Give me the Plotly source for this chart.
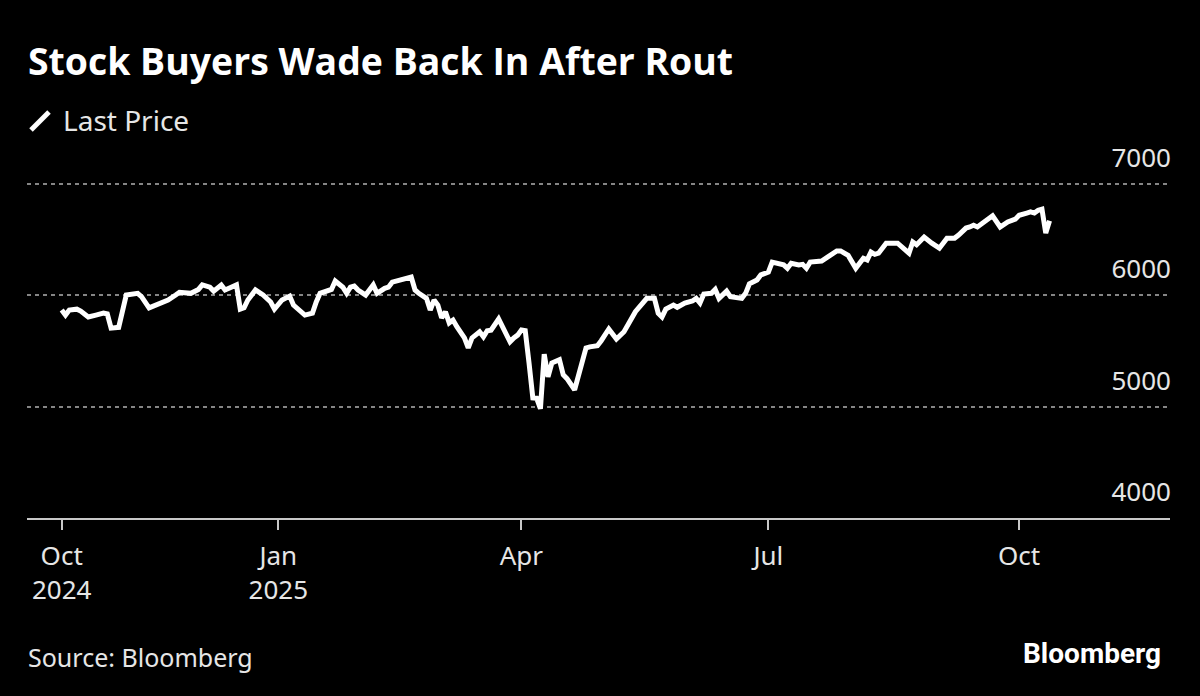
import plotly.graph_objects as go

# ---------------- data ----------------
dates = [
    "2024-10-14", "2024-10-15", "2024-10-16", "2024-10-18", "2024-10-21", "2024-10-23",
    "2024-10-25", "2024-10-29", "2024-10-30", "2024-10-31", "2024-11-04", "2024-11-05",
    "2024-11-06", "2024-11-11", "2024-11-12", "2024-11-14", "2024-11-18", "2024-11-21",
    "2024-11-25", "2024-11-26", "2024-11-29", "2024-12-03", "2024-12-04", "2024-12-06",
    "2024-12-09", "2024-12-11", "2024-12-12", "2024-12-16", "2024-12-17", "2024-12-18",
    "2024-12-19", "2024-12-20", "2024-12-24", "2024-12-26", "2024-12-30", "2024-12-31",
    "2025-01-02", "2025-01-06", "2025-01-07", "2025-01-10", "2025-01-14", "2025-01-15",
    "2025-01-16", "2025-01-21", "2025-01-22", "2025-01-24", "2025-01-27", "2025-01-28",
    "2025-01-29", "2025-01-30", "2025-02-03", "2025-02-05", "2025-02-06", "2025-02-10",
    "2025-02-11", "2025-02-12", "2025-02-14", "2025-02-19", "2025-02-20", "2025-02-21",
    "2025-02-25", "2025-02-26", "2025-02-27", "2025-02-28", "2025-03-03", "2025-03-04",
    "2025-03-05", "2025-03-06", "2025-03-07", "2025-03-11", "2025-03-12", "2025-03-13",
    "2025-03-17", "2025-03-18", "2025-03-19", "2025-03-20", "2025-03-24", "2025-03-26",
    "2025-03-27", "2025-03-28", "2025-03-31", "2025-04-01", "2025-04-02", "2025-04-03",
    "2025-04-04", "2025-04-07", "2025-04-08", "2025-04-09", "2025-04-10", "2025-04-11",
    "2025-04-15", "2025-04-16", "2025-04-17", "2025-04-21", "2025-04-22", "2025-04-23",
    "2025-04-24", "2025-04-25", "2025-04-29", "2025-04-30", "2025-05-02", "2025-05-06",
    "2025-05-08", "2025-05-13", "2025-05-16", "2025-05-20", "2025-05-21", "2025-05-22",
    "2025-05-23", "2025-05-27", "2025-05-28", "2025-05-30", "2025-06-03", "2025-06-04",
    "2025-06-05", "2025-06-06", "2025-06-10", "2025-06-11", "2025-06-12", "2025-06-16",
    "2025-06-17", "2025-06-20", "2025-06-23", "2025-06-24", "2025-06-26", "2025-06-27",
    "2025-07-01", "2025-07-02", "2025-07-07", "2025-07-08", "2025-07-09", "2025-07-11",
    "2025-07-14", "2025-07-15", "2025-07-16", "2025-07-21", "2025-07-23", "2025-07-25",
    "2025-07-28", "2025-07-30", "2025-08-01", "2025-08-04", "2025-08-05", "2025-08-06",
    "2025-08-07", "2025-08-08", "2025-08-11", "2025-08-13", "2025-08-15", "2025-08-18",
    "2025-08-21", "2025-08-22", "2025-08-25", "2025-08-27", "2025-08-29", "2025-09-02",
    "2025-09-04", "2025-09-08", "2025-09-09", "2025-09-11", "2025-09-12", "2025-09-15",
    "2025-09-16", "2025-09-18", "2025-09-22", "2025-09-24", "2025-09-26", "2025-09-30",
    "2025-10-01", "2025-10-03", "2025-10-06", "2025-10-07", "2025-10-08", "2025-10-09",
    "2025-10-10", "2025-10-13",
]
last_price = [
    5865, 5820, 5865, 5873, 5856, 5803,
    5820, 5838, 5830, 5703, 5710, 5860,
    6000, 6015, 5985, 5885, 5912, 5955,
    6000, 6025, 6015, 6050, 6090, 6070,
    6035, 6090, 6045, 6080, 6090, 5873,
    5885, 5955, 6045, 6000, 5937, 5873,
    5955, 5990, 5910, 5820, 5838, 5937,
    6015, 6050, 6125, 6070, 6015, 6070,
    6080, 6045, 6000, 6090, 6015, 6060,
    6070, 6115, 6135, 6160, 6045, 6015,
    5970, 5865, 5955, 5910, 5795, 5850,
    5750, 5775, 5715, 5615, 5525, 5615,
    5670, 5625, 5680, 5685, 5785, 5640,
    5580, 5615, 5640, 5686, 5680, 5390,
    5077, 5075, 4980, 5470, 5266, 5390,
    5420, 5284, 5250, 5150, 5270, 5390,
    5525, 5535, 5545, 5590, 5695, 5605,
    5670, 5850, 5970, 5970, 5837, 5803,
    5873, 5910, 5890, 5928, 5946, 5970,
    5928, 6008, 6015, 6050, 5970, 6035,
    5985, 5970, 6015, 6100, 6135, 6180,
    6205, 6295, 6270, 6240, 6285, 6270,
    6275, 6240, 6295, 6305, 6355, 6395,
    6395, 6355, 6240, 6295, 6330, 6315,
    6385, 6365, 6375, 6465, 6465, 6465,
    6375, 6475, 6450, 6520, 6465, 6420,
    6510, 6510, 6535, 6600, 6610, 6625,
    6610, 6665, 6710, 6610, 6655, 6680,
    6715, 6735, 6745, 6735, 6760, 6770,
    6555, 6665,
]
x_tick_dates = ["2024-10-14", "2025-01-01", "2025-04-01", "2025-07-01", "2025-10-01"]
x_tick_labels = ["Oct<br>2024", "Jan<br>2025", "Apr", "Jul", "Oct"]
y_tick_values = [4000, 5000, 6000, 7000]
y_tick_labels = ["4000", "5000", "6000", "7000"]

# ---------------- layout helpers ----------------
W, H = 1200, 696
L, R, T, B = 27, 30, 120, 178
PW, PH = W - L - R, H - T - B
Y_MIN = 4000
Y_MAX = 4000 + PH * 3000 / 334.5   # keeps 4000 at y=518 and 7000 at y=183.5


def px(x):
    return (x - L) / PW


def py(y):
    return (H - B - y) / PH


FONT = "Noto Sans"
TEXT = "#e6e6e6"

fig = go.Figure()
fig.add_trace(go.Scatter(
    x=dates, y=last_price, mode="lines", name="Last Price",
    line=dict(color="#ffffff", width=5),
    showlegend=False, hoverinfo="skip",
))

fig.update_layout(
    width=W, height=H,
    paper_bgcolor="#000000", plot_bgcolor="#000000",
    margin=dict(l=L, r=R, t=T, b=B, pad=0),
    font=dict(family=FONT, color=TEXT, size=26),
    showlegend=False,
)

fig.update_xaxes(
    type="date",
    rangebreaks=[dict(bounds=["sat", "mon"])],
    range=["2024-09-30 20:53", "2025-11-25 16:48"],
    tickmode="array", tickvals=x_tick_dates, ticktext=x_tick_labels,
    showgrid=False, zeroline=False,
    showline=True, linecolor="#c8c8c8", linewidth=2,
    ticks="outside", ticklen=10, tickwidth=2, tickcolor="#c8c8c8",
    ticklabelstandoff=4,
    tickfont=dict(family=FONT, size=26, color=TEXT),
)

fig.update_yaxes(
    side="right", range=[Y_MIN, Y_MAX],
    tickmode="array", tickvals=y_tick_values, ticktext=y_tick_labels,
    ticklabelposition="inside", ticklabelshift=-26, ticklabelstandoff=-4, ticks="",
    showgrid=True, gridcolor="#858585", griddash="4px,4px", gridwidth=1.5,
    zeroline=False, showline=False,
    tickfont=dict(family=FONT, size=26, color=TEXT),
)

# title
fig.add_annotation(
    text="<b>Stock Buyers Wade Back In After Rout</b>",
    xref="paper", yref="paper", x=px(25.5), y=py(60),
    xanchor="left", yanchor="middle", showarrow=False,
    font=dict(family="Open Sans", size=37.4, color="#ffffff"),
)
# legend icon + label
fig.add_shape(
    type="line", xref="paper", yref="paper",
    x0=px(31), y0=py(130), x1=px(49), y1=py(112),
    line=dict(color="#ffffff", width=5),
)
fig.add_annotation(
    text="Last Price",
    xref="paper", yref="paper", x=px(61), y=py(120),
    xanchor="left", yanchor="middle", showarrow=False,
    font=dict(family=FONT, size=28, color=TEXT),
)
# source + logo
fig.add_annotation(
    text="Source: Bloomberg",
    xref="paper", yref="paper", x=px(26), y=py(657),
    xanchor="left", yanchor="middle", showarrow=False,
    font=dict(family=FONT, size=25, color=TEXT),
)
fig.add_annotation(
    text="<b>Bloomberg</b>",
    xref="paper", yref="paper", x=px(1163), y=py(653),
    xanchor="right", yanchor="middle", showarrow=False,
    font=dict(family="Roboto", size=28, color="#ffffff"),
)

fig.write_html(
    "out.html",
    config={"displayModeBar": False},
    post_script="document.body.style.margin='0px';document.body.style.background='#000000';",
)
